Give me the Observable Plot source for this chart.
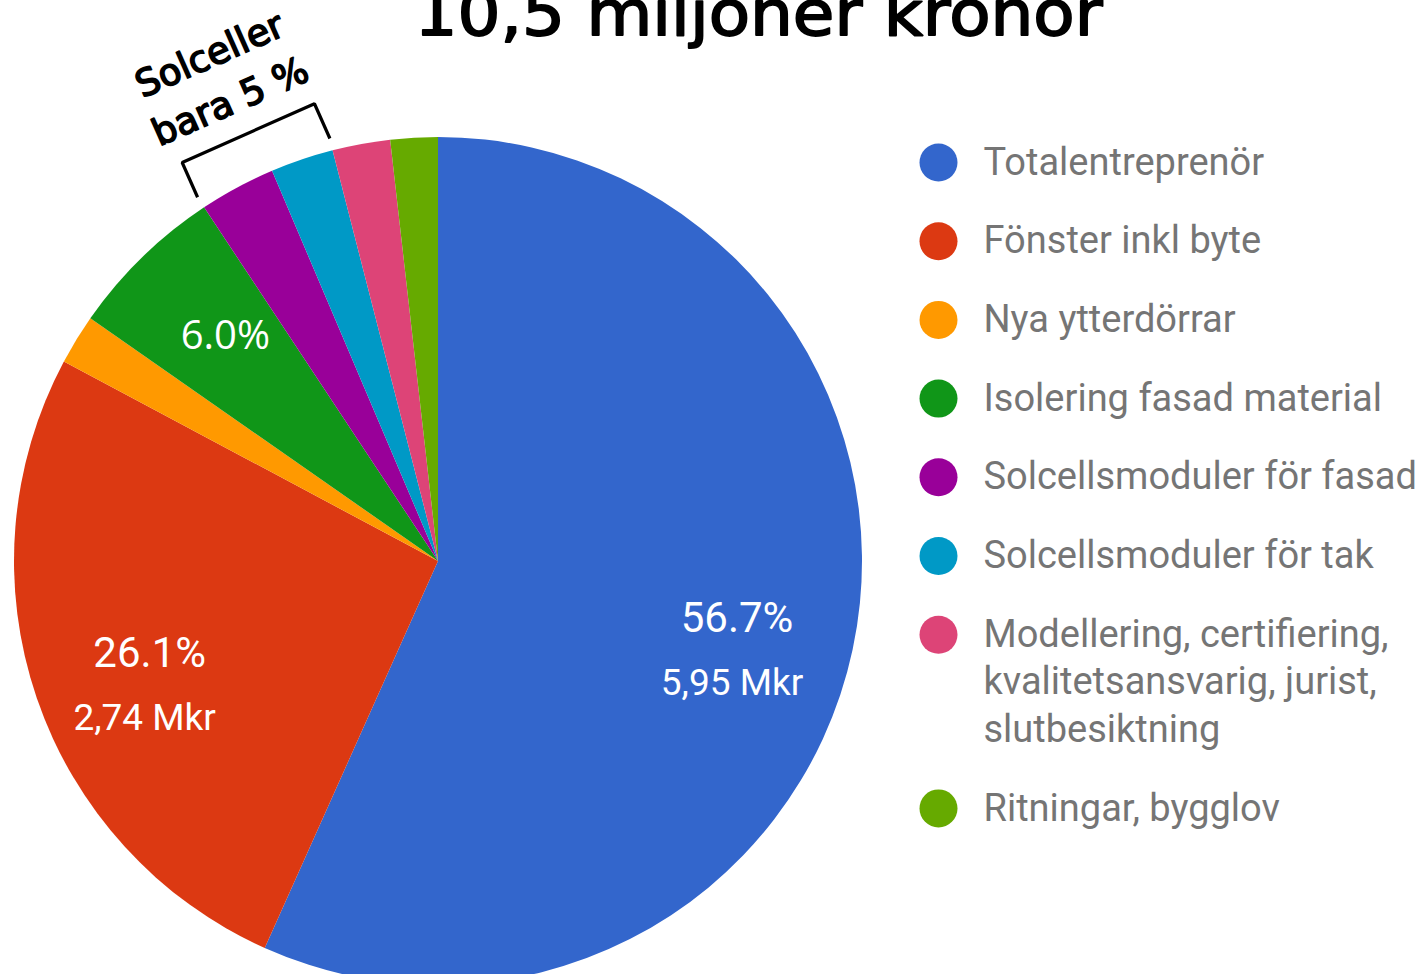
<!DOCTYPE html>
<html>
<head>
<meta charset="utf-8">
<script src="https://cdn.jsdelivr.net/npm/d3@7"></script>
<script src="https://cdn.jsdelivr.net/npm/@observablehq/plot@0.6"></script>
<style>
  html, body { margin: 0; padding: 0; background: #fff; overflow: hidden; }
  #chart svg { display: block; }
</style>
</head>
<body>
<div id="chart"></div>
<script>
// ---------- data ----------
const categories = [
  "Totalentreprenör",
  "Fönster inkl byte",
  "Nya ytterdörrar",
  "Isolering fasad material",
  "Solcellsmoduler för fasad",
  "Solcellsmoduler för tak",
  "Modellering, certifiering, kvalitetsansvarig, jurist, slutbesiktning",
  "Ritningar, bygglov"
];
const legendLabels = [
  "Totalentreprenör",
  "Fönster inkl byte",
  "Nya ytterdörrar",
  "Isolering fasad material",
  "Solcellsmoduler för fasad",
  "Solcellsmoduler för tak",
  "Modellering, certifiering,\nkvalitetsansvarig, jurist,\nslutbesiktning",
  "Ritningar, bygglov"
];
const shares = [56.7, 26.1, 1.9, 6.0, 2.9, 2.4, 2.2, 1.8];      // percent
const mkrLabels = ["5,95 Mkr", "2,74 Mkr", "", "", "", "", "", ""];
const colors = ["#3366cc", "#dc3912", "#ff9900", "#109618", "#990099", "#0099c6", "#dd4477", "#66aa00"];
const titleText = "10,5 miljoner kronor";
const annotationLines = ["Solceller", "bara 5 %"];
const annotatedSlices = ["Solcellsmoduler för fasad", "Solcellsmoduler för tak"];

// ---------- layout ----------
const W = 1424, H = 974;
const CX = 438, CY = 561, R = 424;          // pie centre / radius in pixels
const X = px => (px - CX) / R;              // pixel -> data units
const Y = py => (CY - py) / R;

const slices = categories.map((name, i) => ({name, share: shares[i], mkr: mkrLabels[i]}));
const arcs = d3.pie().sort(null).value(d => d.share)(slices);

// slice labels (only slices large enough get a label, as in Google Charts)
const LABEL_K = 0.72;
const sliceLabels = arcs.filter(a => a.data.share >= 5).map(a => {
  const m = (a.startAngle + a.endAngle) / 2;
  return {x: LABEL_K * Math.sin(m), y: LABEL_K * Math.cos(m), pct: a.data.share.toFixed(1) + "%", mkr: a.data.mkr, big: a.data.share >= 20};
});

// bracket over the two solar slices
const ann = arcs.filter(a => annotatedSlices.includes(a.data.name));
const a0 = d3.min(ann, a => a.startAngle), a1 = d3.max(ann, a => a.endAngle);
const am = (a0 + a1) / 2;
const nx = Math.sin(am), ny = Math.cos(am);
const K_END = 1.03, OFF = 38 / R;
const p0 = {x: K_END * Math.sin(a0), y: K_END * Math.cos(a0)};
const p1 = {x: K_END * Math.sin(a1), y: K_END * Math.cos(a1)};
const bracket = [
  p0,
  {x: p0.x + nx * OFF, y: p0.y + ny * OFF},
  {x: p1.x + nx * OFF, y: p1.y + ny * OFF},
  p1
];
const topMid = {x: (bracket[1].x + bracket[2].x) / 2, y: (bracket[1].y + bracket[2].y) / 2};
const rot = am * 180 / Math.PI - 360;
const annText = annotationLines.map((t, i) => {
  const d = (annotationLines.length - 1 - i) * 51 / R + 34 / R;
  return {text: t, x: topMid.x + nx * d - 4 / R, y: topMid.y + ny * d};
});

// legend rows
const legendRows = [], legendLines = [];
{
  let yy = 162;
  legendLabels.forEach((lab, i) => {
    const lines = lab.split("\n");
    legendRows.push({name: categories[i], x: X(938), y: Y(yy)});
    lines.forEach((t, j) => legendLines.push({text: t, x: X(983), y: Y(yy + j * 47.5)}));
    yy += 78.7 + (lines.length - 1) * 47.5;
  });
}

// pie render mark, using Plot's own x / y / color scales
const pieMark = (index, scales) => {
  const x0 = scales.x(0), y0 = scales.y(0), r = scales.x(1) - x0;
  const arc = d3.arc().innerRadius(0).outerRadius(r);
  const g = d3.create("svg:g").attr("transform", `translate(${x0},${y0})`);
  g.selectAll("path").data(arcs).join("path")
    .attr("d", arc)
    .attr("fill", d => scales.color ? scales.color(d.data.name) : colors[categories.indexOf(d.data.name)]);
  return g.node();
};

const chart = Plot.plot({
  width: W,
  height: H,
  margin: 0,
  style: {background: "#fff", fontFamily: "Roboto, sans-serif", overflow: "hidden"},
  x: {domain: [-1, 1], range: [CX - R, CX + R], axis: null},
  y: {domain: [-1, 1], range: [CY + R, CY - R], axis: null},
  color: {type: "ordinal", domain: categories, range: colors},
  marks: [
    pieMark,
    // percent labels
    Plot.text(sliceLabels.filter(d => d.big), {x: "x", y: "y", text: "pct", fill: "white", fontSize: 42, fontFamily: "Roboto", dy: -7}),
    Plot.text(sliceLabels.filter(d => !d.big), {x: "x", y: "y", text: "pct", fill: "white", fontSize: 40, fontFamily: "Open Sans", dy: -7}),
    Plot.text(sliceLabels.filter(d => d.mkr), {x: "x", y: "y", text: "mkr", fill: "white", fontSize: 37, fontFamily: "Roboto", dx: -5, dy: 58}),
    // annotation
    Plot.line(bracket, {x: "x", y: "y", stroke: "black", strokeWidth: 3.2, strokeLinejoin: "miter", strokeLinecap: "butt"}),
    Plot.text(annText, {x: "x", y: "y", text: "text", rotate: rot, fontSize: 37, fontFamily: "DejaVu Sans", fill: "black", stroke: "black", strokeWidth: 1.6}),
    // legend
    Plot.dot(legendRows, {x: "x", y: "y", r: 19, fill: "name"}),
    Plot.text(legendLines, {x: "x", y: "y", text: "text", textAnchor: "start", fontSize: 38, fontFamily: "Roboto", fill: "#757575"}),
    // title
    Plot.text([titleText], {x: X(758), y: Y(34), text: d => d, lineAnchor: "bottom", fontSize: 62, fontFamily: "DejaVu Sans", fill: "black", stroke: "black", strokeWidth: 1.8, className: "title"})
  ]
});

// fit the title to the reference width
d3.select(chart).selectAll(".title text").attr("textLength", 688).attr("lengthAdjust", "spacingAndGlyphs");

document.getElementById("chart").appendChild(chart);
</script>
</body>
</html>
